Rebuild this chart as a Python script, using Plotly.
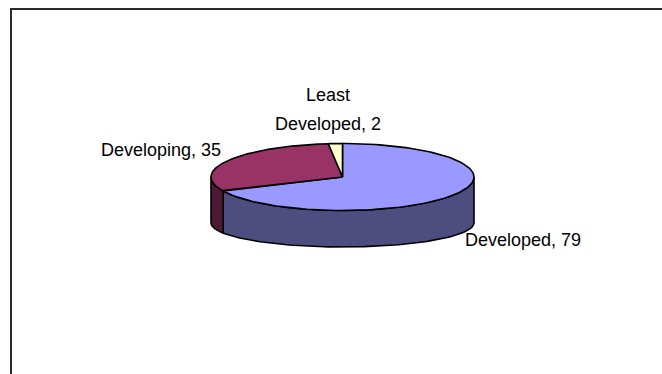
import numpy as np
import plotly.graph_objects as go

# Data
categories = ["Developed", "Developing", "Least Developed"]
values = [79, 35, 2]

# Slice colours: top faces and darker rim shades
top_colors = ["#9999FF", "#993366", "#FFFFCC"]
side_colors = ["#4D4D80", "#4D1A33", "#808066"]

W, H = 662, 374

# Ellipse geometry of the tilted pie (pixel units)
CX, CY, RX, RY = 342.5, 177.0, 131.5, 33.5   # top face
BCY, BRY = 223.0, 24.0                         # base outline


def top_pt(t):
    r = np.radians(t)
    return CX + RX * np.sin(r), CY - RY * np.cos(r)


def base_pt(t):
    r = np.radians(t)
    return CX + RX * np.sin(r), BCY - BRY * np.cos(r)


total = sum(values)
bounds = np.concatenate([[0], np.cumsum(values) / total * 360.0])

fig = go.Figure()

# Rim walls (only the front half of the cylinder is visible)
for i, cat in enumerate(categories):
    a, b = max(bounds[i], 90.0), min(bounds[i + 1], 270.0)
    if a >= b:
        continue
    ts = np.linspace(a, b, 80)
    tx, ty = top_pt(ts)
    bx, by = base_pt(ts[::-1])
    xs = np.concatenate([tx, bx, tx[:1]])
    ys = np.concatenate([ty, by, ty[:1]])
    fig.add_trace(go.Scatter(
        x=xs, y=ys, mode="lines", fill="toself",
        fillcolor=side_colors[i],
        line=dict(color="black", width=1.6),
        hoverinfo="skip", showlegend=False,
    ))

# Top faces of the wedges
for i, cat in enumerate(categories):
    ts = np.linspace(bounds[i], bounds[i + 1], 120)
    ax, ay = top_pt(ts)
    xs = np.concatenate([[CX], ax, [CX]])
    ys = np.concatenate([[CY], ay, [CY]])
    fig.add_trace(go.Scatter(
        x=xs, y=ys, mode="lines", fill="toself",
        fillcolor=top_colors[i],
        line=dict(color="black", width=1.6),
        name=cat, text=f"{cat}: {values[i]}", hoverinfo="text",
        showlegend=False,
    ))

# Data labels
font = dict(family="Liberation Sans, Arial, sans-serif", size=18, color="black")
label_developed = f"{categories[0]}, {values[0]}"
label_developing = f"{categories[1]}, {values[1]}"
least_words = categories[2].split(" ")
fig.add_annotation(x=463, y=240, text=label_developed, showarrow=False,
                   xanchor="left", yanchor="middle", font=font)
fig.add_annotation(x=223, y=150, text=label_developing, showarrow=False,
                   xanchor="right", yanchor="middle", font=font)
fig.add_annotation(x=328, y=95, text=least_words[0], showarrow=False,
                   xanchor="center", yanchor="middle", font=font)
fig.add_annotation(x=328, y=124, text=f"{least_words[1]}, {values[2]}",
                   showarrow=False, xanchor="center", yanchor="middle", font=font)

# Chart-area border
fig.add_shape(type="rect", x0=11, y0=9, x1=W + 20, y1=H + 20,
              line=dict(color="#2b2b2b", width=2), layer="above")

fig.update_xaxes(range=[0, W], visible=False, fixedrange=True)
fig.update_yaxes(range=[H, 0], visible=False, fixedrange=True)
fig.update_layout(
    width=W, height=H,
    margin=dict(l=0, r=0, t=0, b=0),
    paper_bgcolor="white", plot_bgcolor="white",
    showlegend=False,
)

fig.write_html("out.html")
